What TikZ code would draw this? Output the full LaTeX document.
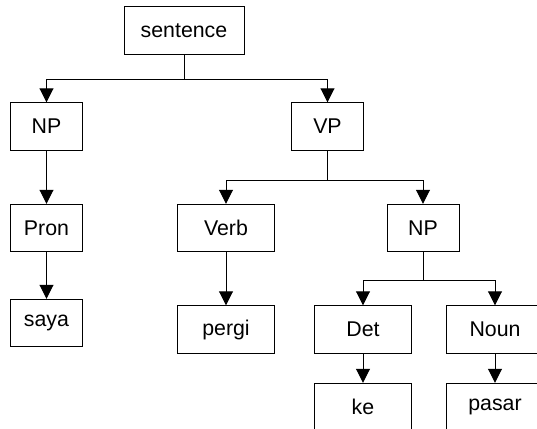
\documentclass[tikz,border=0pt]{standalone}
\usepackage{fontspec}
\setmainfont{Liberation Sans}
\usetikzlibrary{arrows.meta,positioning}

\tikzset{
  box/.style={draw,line width=.75pt,minimum height=35.6pt,inner sep=0pt,
    font=\fontsize{16}{19}\selectfont},
  small/.style={box,minimum width=54pt},
  wide/.style={box,minimum width=72.4pt},
  arr/.style={line width=.75pt,-{Triangle[width=10.5pt,length=10.5pt]}}
}

\begin{document}
\begin{tikzpicture}[x=0.75pt,y=-0.75pt]
  \clip (0,0) rectangle (537,429);

  % top levels
  \node[box,minimum width=90pt] (sent) at (184,30.5) {sentence};
  \node[small] (np) at (46.5,126.5) {NP};
  \node[small] (vp) at (327.5,126.5) {VP};

  % third row
  \node[small] (pron) at (46.5,228) {Pron};
  \node[wide] (verb) at (226,228) {Verb};
  \node[small] (np2) at (423,228) {NP};

  % leaves
  \node[small] (saya) at (46.5,323) {saya};
  \node[wide] (pergi) at (226,329.5) {pergi};
  \node[wide] (det) at (363,329.5) {Det};
  \node[wide] (noun) at (495,329.5) {Noun};
  \node[wide] (ke) at (363,407) {ke};
  \node[wide] (pasar) at (495,407) {pasar};

  \coordinate (s1) at (184,79);
  \coordinate (s2) at (327.5,180);
  \coordinate (s3) at (423,280);

  \draw[arr] (sent) -- (s1) -| (np);
  \draw[arr] (s1) -| (vp);
  \draw[arr] (np) -- (pron);
  \draw[arr] (pron) -- (saya);

  \draw[arr] (vp) -- (s2) -| (verb);
  \draw[arr] (s2) -| (np2);
  \draw[arr] (verb) -- (pergi);

  \draw[arr] (np2) -- (s3) -| (det);
  \draw[arr] (s3) -| (noun);
  \draw[arr] (det) -- (ke);
  \draw[arr] (noun) -- (pasar);
\end{tikzpicture}
\end{document}
